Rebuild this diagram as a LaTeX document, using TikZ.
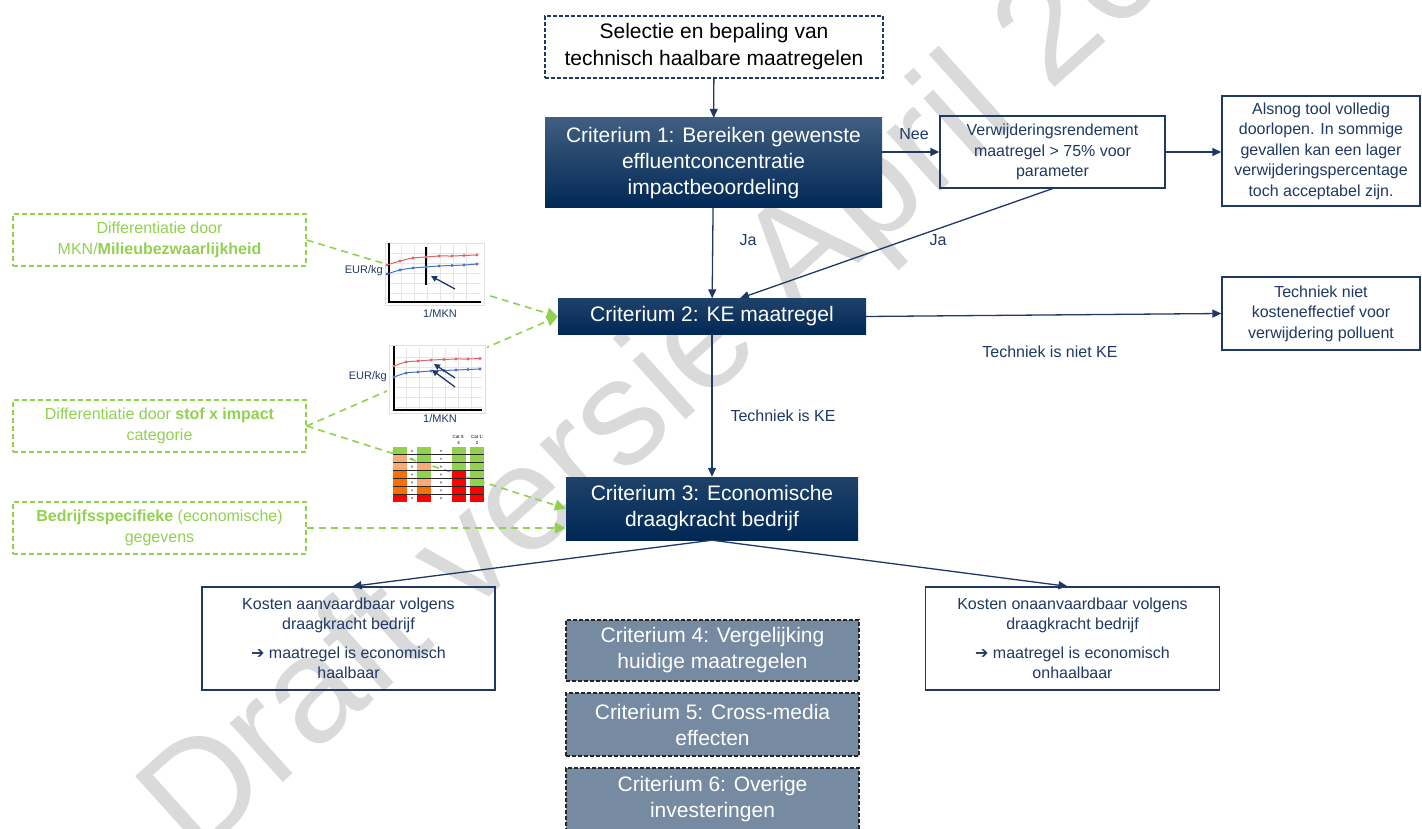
\documentclass[tikz,border=0pt]{standalone}
\usepackage{fontspec}
\setmainfont{Liberation Sans}
\newfontfamily\symfont{DejaVu Sans}
\usetikzlibrary{arrows.meta, calc, positioning}

\definecolor{navy}{RGB}{0,40,85}
\definecolor{linenavy}{RGB}{31,56,100}
\definecolor{slate}{RGB}{118,138,162}
\definecolor{lgreen}{RGB}{146,208,80}
\definecolor{wmgray}{RGB}{218,218,218}
\definecolor{lorange}{RGB}{248,170,120}
\definecolor{dorange}{RGB}{255,110,0}
\definecolor{xred}{RGB}{255,0,0}
\definecolor{chartred}{RGB}{224,100,100}
\definecolor{chartblue}{RGB}{68,114,196}

\tikzset{
  crit/.style={shading=axis, top color=navy!75!white, bottom color=navy, text=white,
    align=center, inner sep=0pt, font=\fontsize{21}{26}\selectfont},
  critgrey/.style={fill=slate, draw=black!85, line width=1.2pt, dash pattern=on 4pt off 2pt,
    text=white, align=center, inner sep=0pt, font=\fontsize{21}{26}\selectfont},
  outbox/.style={draw=linenavy, line width=1.3pt, text=linenavy, align=center,
    inner sep=0pt, font=\fontsize{16}{20.5}\selectfont},
  greenbox/.style={draw=lgreen, line width=1.3pt, dash pattern=on 5pt off 3pt, text=lgreen,
    align=center, inner sep=0pt, font=\fontsize{16}{21}\selectfont},
  flow/.style={draw=linenavy, line width=1.3pt, -{Triangle[length=9pt,width=8pt]}},
  greenflow/.style={draw=lgreen, line width=1.6pt, dash pattern=on 7pt off 5pt,
    -{Triangle[length=11pt,width=11pt]}},
  lbl/.style={text=linenavy, inner sep=0pt, font=\fontsize{16}{19}\selectfont},
  axlbl/.style={text=linenavy, inner sep=0pt, font=\fontsize{11}{13}\selectfont},
  wmark/.style={text=wmgray, inner sep=0pt, font=\fontsize{150}{150}\selectfont},
}

\begin{document}
\begin{tikzpicture}[x=1pt, y=-1pt]
\useasboundingbox (0,0) rectangle (1422,829);

%% watermerk
\node[wmark, rotate=42, anchor=base west] (wm) at (195,862) {Draft versie April 20};

%% hoofdlijn
\node[draw=linenavy, line width=1.3pt, dash pattern=on 4pt off 2pt, align=center, inner sep=0pt,
  minimum width=338, minimum height=62, font=\fontsize{21}{27}\selectfont] (sel) at (714,47)
  {Selectie en bepaling van\\technisch haalbare maatregelen};
\node[crit, minimum width=337, minimum height=90] (crit1) at (713.5,163)
  {Criterium 1: Bereiken gewenste\\effluentconcentratie\\impactbeoordeling};
\node[outbox, minimum width=225, minimum height=72] (verw) at (1052.5,152)
  {Verwijderingsrendement\\maatregel > 75\% voor\\parameter};
\node[outbox, minimum width=198, minimum height=110] (alsnog) at (1321,151)
  {Alsnog tool volledig\\doorlopen. In sommige\\gevallen kan een lager\\verwijderingspercentage\\toch acceptabel zijn.};
\node[crit, top color=navy!88!white, minimum width=308, minimum height=36] (crit2) at (712,316.5)
  {Criterium 2: KE maatregel};
\node[outbox, minimum width=198, minimum height=73] (techniet) at (1321,313.5)
  {Techniek niet\\kosteneffectief voor\\verwijdering polluent};
\node[crit, top color=navy!88!white, minimum width=292, minimum height=63] (crit3) at (712,508.5)
  {Criterium 3: Economische\\draagkracht bedrijf};
\node[outbox, minimum width=293, minimum height=103] (kostenok) at (348.5,638.5)
  {Kosten aanvaardbaar volgens\\draagkracht bedrijf\\[8pt]{\symfont ➔} maatregel is economisch\\haalbaar};
\node[outbox, minimum width=294, minimum height=103] (kostennok) at (1072.5,638.5)
  {Kosten onaanvaardbaar volgens\\draagkracht bedrijf\\[8pt]{\symfont ➔} maatregel is economisch\\onhaalbaar};

%% overige criteria
\node[critgrey, minimum width=293, minimum height=61] (crit4) at (712.5,650.5)
  {Criterium 4: Vergelijking\\huidige maatregelen};
\node[critgrey, minimum width=293, minimum height=63] (crit5) at (712.5,724.5)
  {Criterium 5: Cross-media\\effecten};
\node[critgrey, minimum width=293, minimum height=62] (crit6) at (712.5,799)
  {Criterium 6: Overige\\investeringen};

%% groene invoer
\node[greenbox, minimum width=293, minimum height=52] (inmkn) at (159.5,240)
  {Differentiatie door\\MKN/\textbf{Milieubezwaarlijkheid}};
\node[greenbox, minimum width=293, minimum height=52] (instof) at (159.5,426)
  {Differentiatie door \textbf{stof x impact}\\categorie};
\node[greenbox, minimum width=293, minimum height=52] (inbedr) at (159.5,528)
  {\textbf{Bedrijfsspecifieke} (economische)\\gegevens};

%% labels
\node[lbl] (nee) at (914,134) {Nee};
\node[lbl] (ja1) at (748,240) {Ja};
\node[lbl] (ja2) at (938,240) {Ja};
\node[lbl] (nietke) at (1050,352) {Techniek is niet KE};
\node[lbl] (iske) at (783,416) {Techniek is KE};

%% pijlen
\draw[flow] (sel) -- (crit1);
\draw[flow] (crit1.east |- verw) -- (verw.west);
\draw[flow] (verw.east) -- (verw.east -| alsnog.west);
\draw[flow] (crit1) -- (crit2);
\draw[flow] (verw.south) -- ([xshift=28pt]crit2.north);
\draw[flow] (crit2.east) -- (techniet.west);
\draw[flow] (crit2) -- (crit3);
\draw[flow] (crit3.south) -- ([xshift=4pt]kostenok.north);
\draw[flow] (crit3.south) -- ([xshift=-5pt]kostennok.north);

%% groene pijlen (onder de grafiekjes)
\draw[greenflow] (inmkn.east) -- (crit2.west);
\draw[greenflow] (instof.east) -- (crit2.west);
\draw[greenflow] (instof.east) -- (crit3.west);
\draw[greenflow] (inbedr.east) -- (inbedr.east -| crit3.west);

%%%%%%%%%%%%%%%%%%%%%%%%%%%%%%%%%%%%%%%%%%%%%%
%% grafiekje 1
\fill[white] (383,241) rectangle (487,309);
\draw[black!12, line width=0.6pt] (385,243) rectangle (484,305);
\foreach \gx in {401,414,...,478} \draw[black!10, line width=0.5pt] (\gx,245) -- (\gx,302);
\foreach \gy in {253,263,...,293} \draw[black!10, line width=0.5pt] (390,\gy) -- (481,\gy);
\draw[line width=2.4pt] (389,243) -- (389,302) -- (481,302);
\draw[line width=2.4pt] (426,247) -- (426,285);
\draw[chartred, line width=1pt, mark=*, mark size=1pt] plot[smooth] coordinates
  {(387,265) (400,261) (413,258) (426,257) (439,256) (452,256) (464,255.5) (477,255)};
\draw[chartblue, line width=1pt, mark=*, mark size=1pt] plot[smooth] coordinates
  {(387,274) (400,270) (413,268) (426,267) (439,266) (452,265.5) (464,265) (477,264)};
\draw[linenavy, line width=1.3pt, -{Triangle[length=6pt,width=6pt]}] (455,289) -- (431,276);
\node[axlbl, anchor=east] (eur1) at (383,271) {EUR/kg};
\node[axlbl] (mkn1) at (440,314) {1/MKN};

%% grafiekje 2
\fill[white] (387,344) rectangle (487,415);
\draw[black!12, line width=0.6pt] (389,345) rectangle (485,413);
\foreach \gx in {406,419,...,482} \draw[black!10, line width=0.5pt] (\gx,348) -- (\gx,410);
\foreach \gy in {357,367,...,407} \draw[black!10, line width=0.5pt] (396,\gy) -- (482,\gy);
\draw[line width=2.4pt] (394,346) -- (394,410) -- (482,410);
\draw[chartred, line width=1pt, mark=*, mark size=1pt] plot[smooth] coordinates
  {(394,366) (406,362) (418,361) (431,360) (444,359.5) (456,359) (468,359) (480,358.5)};
\draw[chartblue, line width=1pt, mark=*, mark size=1pt] plot[smooth] coordinates
  {(394,377) (406,373) (418,372) (431,371) (444,370.5) (456,370) (468,369.5) (480,369)};
\draw[linenavy, line width=1.3pt, -{Triangle[length=6pt,width=6pt]}] (455,378) -- (434,364);
\draw[linenavy, line width=1.3pt, -{Triangle[length=6pt,width=6pt]}] (455,387) -- (432,370);
\node[axlbl, anchor=east] (eur2) at (387,377) {EUR/kg};
\node[axlbl] (mkn2) at (440,419) {1/MKN};

%% tabelletje stof x impact
\def\tabtop{447}
\def\rowh{7.86}
\foreach \cx/\clist in {393/{lgreen,lorange,lorange,dorange,dorange,dorange,xred},
                        417/{lgreen,lgreen,lorange,lgreen,lorange,dorange,xred},
                        452/{lgreen,lgreen,lgreen,xred,xred,xred,xred},
                        470/{lgreen,lgreen,lgreen,lgreen,lgreen,xred,xred}}{
  \foreach \c [count=\r from 0] in \clist
    \fill[\c] (\cx,{\tabtop+\r*\rowh}) rectangle ++(14,\rowh);
}
\foreach \r in {0,...,6}{
  \fill[black!45] (412,{\tabtop+(\r+0.5)*\rowh}) circle[radius=1.2pt];
  \fill[black!45] (441,{\tabtop+(\r+0.5)*\rowh}) circle[radius=1.2pt];
}
\foreach \r in {1,...,6}
  \draw[black!85, line width=0.8pt] (393,{\tabtop+\r*\rowh}) -- (484,{\tabtop+\r*\rowh});
\node[inner sep=0pt, align=center, font=\fontsize{4.5}{5.5}\selectfont] (cat3) at (458.5,440) {Cat 3:\\4};
\node[inner sep=0pt, align=center, font=\fontsize{4.5}{5.5}\selectfont] (cat1) at (477,440) {Cat 1:\\2};
%%%%%%%%%%%%%%%%%%%%%%%%%%%%%%%%%%%%%%%%%%%%%%
\end{tikzpicture}
\end{document}
